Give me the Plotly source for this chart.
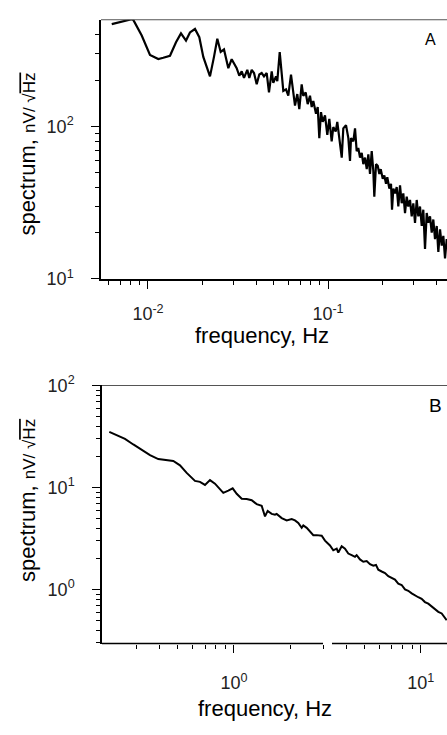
import plotly.graph_objects as go

# ---------------- data ----------------
freq_a = [0.00629, 0.00812, 0.00829, 0.00923, 0.01026, 0.01141, 0.01216, 0.01325, 0.01431, 0.01525,
          0.01626, 0.01711, 0.01824, 0.01928, 0.02029, 0.0221, 0.02326, 0.02427, 0.02534, 0.02644,
          0.02794, 0.02917, 0.0311, 0.03215, 0.03316, 0.03415, 0.03562, 0.03654, 0.03768, 0.03881,
          0.04017, 0.04153, 0.04282, 0.0441, 0.04565, 0.04701, 0.04867, 0.04967, 0.05142, 0.05228,
          0.05392, 0.05531, 0.05645, 0.05843, 0.06017, 0.06229, 0.06367, 0.06556, 0.06751, 0.06926,
          0.07141, 0.07289, 0.07516, 0.07711, 0.07943, 0.08117, 0.08285, 0.08577, 0.08767, 0.08946,
          0.09143, 0.09346, 0.09623, 0.09911, 0.1017, 0.1048, 0.1070, 0.1103, 0.1126, 0.1156,
          0.1192, 0.1216, 0.1259, 0.1297, 0.1325, 0.1342, 0.1382, 0.1413, 0.1443, 0.1473,
          0.1506, 0.1539, 0.1571, 0.1606, 0.1641, 0.1675, 0.1711, 0.1749, 0.1785, 0.1808,
          0.1848, 0.1889, 0.1928, 0.1963, 0.2014, 0.2055, 0.2100, 0.2135, 0.2191, 0.2239,
          0.2268, 0.2306, 0.2357, 0.2408, 0.2458, 0.2512, 0.2567, 0.2620, 0.2678, 0.2736,
          0.2793, 0.2855, 0.2917, 0.2978, 0.3043, 0.3110, 0.3175, 0.3244, 0.3316, 0.3384,
          0.3458, 0.3534, 0.3607, 0.3687, 0.3768, 0.3846, 0.3930, 0.4018, 0.4101, 0.4191,
          0.4283, 0.4372, 0.4467, 0.4565, 0.466]
spec_a = [469, 505, 500, 395, 294, 277, 282, 291, 357, 408,
          366, 414, 436, 385, 286, 213, 286, 376, 308, 320,
          241, 276, 241, 215, 230, 208, 235, 208, 235, 224,
          189, 219, 224, 213, 224, 167, 230, 193, 213, 198,
          308, 235, 171, 175, 159, 219, 175, 137, 163, 130,
          189, 159, 167, 140, 159, 134, 147, 121, 134, 83.8,
          124, 107, 118, 88, 112, 79.8, 99, 92.5, 107, 79.8,
          62.4, 97, 102, 83.8, 59.4, 83.8, 79.8, 97, 68.8, 72.3,
          62.4, 67.1, 56.5, 62.4, 52.4, 65.5, 48.7, 68.8, 51.2, 34.6,
          56.5, 55.2, 48.7, 52.4, 45.3, 47.6, 42.0, 46.4, 39.1, 42.0,
          28.4, 39.1, 36.3, 40.0, 29.8, 41.1, 31.3, 36.3, 27.0, 34.6,
          29.8, 32.9, 25.7, 31.3, 23.3, 32.9, 25.7, 29.8, 22.2, 28.4,
          15.7, 27.0, 23.3, 25.7, 20.1, 24.5, 18.2, 22.2, 15.0, 21.1,
          16.5, 19.1, 13.6, 18.2, 16]

freq_b = [0.2148, 0.2353, 0.2607, 0.2888, 0.3203, 0.3549, 0.3930, 0.4359, 0.4730, 0.5137,
          0.5580, 0.6181, 0.6574, 0.6993, 0.7438, 0.7910, 0.8344, 0.8764, 0.9321, 0.984,
          1.034, 1.100, 1.170, 1.244, 1.323, 1.407, 1.466, 1.515, 1.592, 1.658,
          1.693, 1.801, 1.916, 2.037, 2.122, 2.210, 2.305, 2.351, 2.452, 2.554,
          2.660, 2.773, 2.950, 3.072, 3.267, 3.403, 3.549, 3.620, 3.775, 3.932,
          4.095, 4.270, 4.447, 4.541, 4.730, 4.927, 5.138, 5.351, 5.573, 5.762,
          5.928, 6.182, 6.439, 6.706, 6.993, 7.283, 7.586, 7.910, 8.239, 8.582,
          8.951, 9.322, 9.708, 10.12, 10.54, 10.98, 11.45, 11.93, 12.43, 12.96,
          13.49, 13.78]
spec_b = [35.1, 32.7, 29.9, 26.4, 23.5, 20.8, 19.0, 18.6, 18.2, 16.5,
          13.9, 11.6, 11.35, 10.6, 11.8, 10.9, 9.66, 8.85, 9.32, 9.80,
          8.66, 7.76, 7.70, 7.49, 6.86, 6.61, 5.20, 5.89, 5.51, 5.40,
          5.51, 5.01, 4.76, 4.90, 4.76, 4.49, 4.02, 4.24, 4.02, 3.74,
          3.41, 3.41, 3.36, 3.01, 2.70, 2.42, 2.51, 2.30, 2.65, 2.51,
          2.25, 2.17, 2.09, 2.17, 1.97, 1.87, 1.90, 1.77, 1.71, 1.74,
          1.56, 1.50, 1.45, 1.35, 1.30, 1.25, 1.14, 1.106, 1.0, 0.97,
          0.916, 0.869, 0.839, 0.809, 0.752, 0.725, 0.683, 0.650, 0.604, 0.582,
          0.522, 0.500]

# tick values / labels (labelled decades; all other ticks unlabelled)
xa_major = [0.01, 0.1]
xa_text = ["10<sup>-2</sup>", "10<sup>-1</sup>"]
xa_minor = [0.006, 0.007, 0.008, 0.009, 0.02, 0.03, 0.04, 0.05, 0.06, 0.07, 0.08, 0.09, 0.2, 0.3, 0.4]
ya_major = [10, 100]
ya_text = ["10<sup>1</sup>", "10<sup>2</sup>"]
ya_minor = [20, 30, 40, 50, 60, 70, 80, 90, 200, 300, 400]

xb_major = [1, 10]
xb_text = ["10<sup>0</sup>", "10<sup>1</sup>"]
xb_minor = [0.3, 0.4, 0.5, 0.6, 0.7, 0.8, 0.9, 2, 3, 4, 5, 6, 7, 8, 9]
yb_major = [1, 10, 100]
yb_text = ["10<sup>0</sup>", "10<sup>1</sup>", "10<sup>2</sup>"]
yb_minor = [0.3, 0.4, 0.5, 0.6, 0.7, 0.8, 0.9, 2, 3, 4, 5, 6, 7, 8, 9, 20, 30, 40, 50, 60, 70, 80, 90]

# ---------------- layout helpers ----------------
W, H = 447, 735
FONT = "Liberation Sans, Arial, sans-serif"


def px(x):
    return x / W


def py(y):
    return 1 - y / H


def axis_cfg(rng, dom, anchor, vals, text, minor, standoff, showline=True):
    return dict(type="log", range=rng, domain=dom, anchor=anchor,
                showline=showline, linecolor="black", linewidth=1.5,
                showgrid=False, zeroline=False,
                ticks="outside", ticklen=8, tickwidth=1.2, tickcolor="black",
                tickvals=vals, ticktext=text, ticklabelstandoff=standoff,
                tickfont=dict(family=FONT, size=18, color="#222"),
                minor=dict(tickvals=minor, ticks="outside", ticklen=4, tickwidth=1,
                           tickcolor="black", showgrid=False))


def label(text, x, y, size, angle=0):
    return dict(text=text, xref="paper", yref="paper", x=px(x), y=py(y),
                xanchor="center", yanchor="middle", textangle=angle,
                showarrow=False, font=dict(size=size, family=FONT, color="black"))


fig = go.Figure()
fig.add_trace(go.Scatter(x=freq_a, y=spec_a, mode="lines", xaxis="x", yaxis="y",
                         line=dict(color="black", width=2.2), showlegend=False, hoverinfo="skip"))
fig.add_trace(go.Scatter(x=freq_b, y=spec_b, mode="lines", xaxis="x2", yaxis="y2",
                         line=dict(color="black", width=2), showlegend=False, hoverinfo="skip"))

ytitle = ('spectrum, <span style="font-size:17px">nV/ √</span>'
          '<span style="font-size:17px;text-decoration:overline">Hz</span>')

fig.update_layout(
    width=W, height=H, autosize=False,
    margin=dict(l=0, r=0, t=0, b=0),
    paper_bgcolor="white", plot_bgcolor="white",
    font=dict(family=FONT, color="black"),
    xaxis=axis_cfg([-2.261, -0.339], [px(101), 1], "y", xa_major, xa_text, xa_minor, 10),
    yaxis=axis_cfg([1, 2.70], [py(275), py(8)], "x", ya_major, ya_text, ya_minor, 14),
    xaxis2=axis_cfg([-0.707, 1.141], [px(102), 1], "y2", xb_major, xb_text, xb_minor, 15, showline=False),
    yaxis2=axis_cfg([-0.53, 2.0], [py(651), py(385)], "x2", yb_major, yb_text, yb_minor, 14),
    shapes=[
        dict(type="line", xref="paper", yref="paper", x0=px(101), x1=1, y0=py(8), y1=py(8),
             line=dict(color="#555", width=1.2)),
        dict(type="line", xref="paper", yref="paper", x0=px(102), x1=1, y0=py(385), y1=py(385),
             line=dict(color="#555", width=1.2)),
        dict(type="line", xref="paper", yref="paper", x0=px(102), x1=px(323), y0=py(651), y1=py(651),
             line=dict(color="black", width=1.5)),
        dict(type="line", xref="paper", yref="paper", x0=px(332), x1=1, y0=py(651), y1=py(651),
             line=dict(color="black", width=1.5)),
    ],
    annotations=[
        label("frequency, Hz", 262, 333, 22),
        label("frequency, Hz", 265, 718, 22),
        label(ytitle, 28, 147, 22, -90),
        label(ytitle, 28, 504, 22, -90),
        label("A", 430, 28, 16),
        label("B", 435, 406, 19),
    ],
)

fig.write_html("out.html", config={"displayModeBar": False},
               post_script="document.body.style.margin='0';")
